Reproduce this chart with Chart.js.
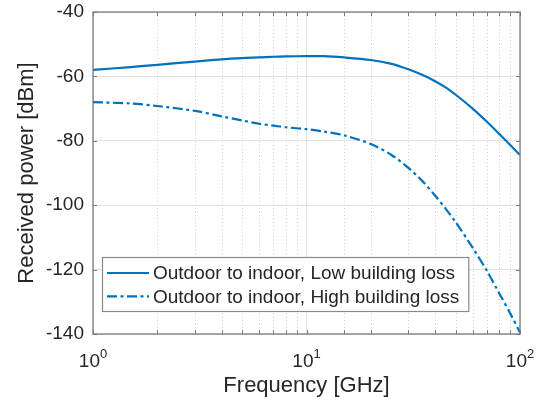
<!DOCTYPE html>
<html>
<head>
<meta charset="utf-8">
<script src="https://cdn.jsdelivr.net/npm/chart.js@4.4.0/dist/chart.umd.min.js"></script>
<style>
  html, body { margin: 0; padding: 0; background: #fff; }
  #wrap { width: 536px; height: 404px; }
</style>
</head>
<body>
<div id="wrap"><canvas id="powerChart" width="536" height="404"></canvas></div>
<script>
// Frequency sweep [GHz] and received power [dBm] for both building-loss cases
const frequencies = [1, 1.5, 2, 3, 4, 5, 6, 7, 8, 10, 12, 15, 20, 25, 30, 35, 40, 45, 50, 60, 70, 80, 90, 100];
const lowLoss = [-58.0, -57.1, -56.4, -55.4, -54.7, -54.3, -54.1, -53.9, -53.8, -53.7, -53.7, -54.1,
                 -54.9, -56.1, -57.8, -59.6, -61.5, -63.5, -65.7, -70.0, -74.1, -77.9, -81.3, -84.4];
const highLoss = [-68.0, -68.4, -69.2, -70.7, -72.4, -73.7, -74.7, -75.3, -75.8, -76.4, -77.1, -78.3,
                  -81.0, -84.4, -88.4, -92.6, -97.0, -101.2, -105.3, -113.2, -120.4, -127.4, -133.6, -139.5];
const seriesLabels = ['Outdoor to indoor, Low building loss', 'Outdoor to indoor, High building loss'];
const decades = [1, 10, 100];
const decadeExponents = ['0', '1', '2'];

const LINE_BLUE = '#0072BD';
const TEXT = '#262626';
const FRAME = '#7a7a7a';
const FONT = '"Liberation Sans", Arial, Helvetica, sans-serif';

const isDecade = v => decades.some(d => Math.abs(d - v) < 1e-9);

const toPoints = ys => frequencies.map((f, i) => ({ x: f, y: ys[i] }));

// grid, inward ticks, box, exponent labels and the boxed legend
const matlabAxes = {
  id: 'matlabAxes',
  beforeDatasetsDraw(chart) {
    const { ctx, chartArea: a, scales: { x } } = chart;
    ctx.save();
    ctx.strokeStyle = '#cfcfcf';
    ctx.lineWidth = 1;
    ctx.setLineDash([1, 2.5]);
    x.ticks.forEach(t => {
      if (isDecade(t.value)) return;
      const px = Math.round(x.getPixelForValue(t.value)) + 0.5;
      ctx.beginPath();
      ctx.moveTo(px, a.top);
      ctx.lineTo(px, a.bottom);
      ctx.stroke();
    });
    ctx.restore();
  },
  afterDraw(chart) {
    const { ctx, chartArea: a, scales: { x, y } } = chart;
    ctx.save();

    // inward ticks on all four sides
    ctx.strokeStyle = FRAME;
    ctx.lineWidth = 1;
    const len = 4;
    x.ticks.forEach(t => {
      const px = Math.round(x.getPixelForValue(t.value)) + 0.5;
      ctx.beginPath();
      ctx.moveTo(px, a.bottom); ctx.lineTo(px, a.bottom - len);
      ctx.moveTo(px, a.top); ctx.lineTo(px, a.top + len);
      ctx.stroke();
    });
    y.ticks.forEach(t => {
      const py = Math.round(y.getPixelForValue(t.value)) + 0.5;
      ctx.beginPath();
      ctx.moveTo(a.left, py); ctx.lineTo(a.left + len, py);
      ctx.moveTo(a.right, py); ctx.lineTo(a.right - len, py);
      ctx.stroke();
    });

    // axes box
    ctx.lineWidth = 1.3;
    ctx.strokeRect(a.left, a.top, a.right - a.left, a.bottom - a.top);

    // 10^n tick labels
    ctx.fillStyle = TEXT;
    ctx.textBaseline = 'alphabetic';
    decades.forEach((d, i) => {
      const px = x.getPixelForValue(d);
      ctx.font = '19px ' + FONT;
      const wBase = ctx.measureText('10').width;
      ctx.font = '13px ' + FONT;
      const wExp = ctx.measureText(decadeExponents[i]).width;
      const left = px - (wBase + wExp) / 2;
      ctx.font = '19px ' + FONT;
      ctx.fillText('10', left, a.bottom + 33);
      ctx.font = '13px ' + FONT;
      ctx.fillText(decadeExponents[i], left + wBase, a.bottom + 24);
    });

    // legend
    ctx.font = '19px ' + FONT;
    const widths = chart.data.datasets.map(ds => ctx.measureText(ds.label).width);
    const bx = a.left + 9, by = a.bottom - 77, bh = 54;
    const sampleX0 = bx + 5, sampleX1 = bx + 47, textX = bx + 51;
    const bw = textX - bx + Math.max(...widths) + 9;
    ctx.fillStyle = '#fff';
    ctx.fillRect(bx, by, bw, bh);
    ctx.strokeStyle = '#8a8a8a';
    ctx.lineWidth = 1.2;
    ctx.strokeRect(bx + 0.5, by + 0.5, bw, bh);
    chart.data.datasets.forEach((ds, i) => {
      const cy = by + 16 + i * 23.4;
      ctx.strokeStyle = ds.borderColor;
      ctx.lineWidth = ds.borderWidth;
      ctx.setLineDash(ds.borderDash || []);
      ctx.beginPath();
      ctx.moveTo(sampleX0, cy);
      ctx.lineTo(sampleX1, cy);
      ctx.stroke();
      ctx.setLineDash([]);
      ctx.fillStyle = TEXT;
      ctx.textBaseline = 'middle';
      ctx.fillText(ds.label, textX, cy + 1);
    });
    ctx.restore();
  }
};

const ctx = document.getElementById('powerChart').getContext('2d');
const chart = new Chart(ctx, {
  type: 'line',
  data: {
    datasets: [
      {
        label: seriesLabels[0],
        data: toPoints(lowLoss),
        borderColor: LINE_BLUE,
        borderWidth: 2.2,
        pointRadius: 0,
        tension: 0.3
      },
      {
        label: seriesLabels[1],
        data: toPoints(highLoss),
        borderColor: LINE_BLUE,
        borderWidth: 2.2,
        borderDash: [10, 3.5, 3, 3.5],
        pointRadius: 0,
        tension: 0.3
      }
    ]
  },
  options: {
    responsive: false,
    devicePixelRatio: 1,
    animation: false,
    layout: { padding: { top: 12, right: 16, left: 0, bottom: 0 } },
    plugins: {
      legend: { display: false },
      tooltip: { enabled: false }
    },
    scales: {
      x: {
        type: 'logarithmic',
        min: 1,
        max: 100,
        border: { display: false },
        grid: {
          drawTicks: false,
          color: c => (c.tick && isDecade(c.tick.value)) ? '#e2e2e2' : 'rgba(0,0,0,0)',
          lineWidth: 1
        },
        ticks: { display: false },
        title: {
          display: true,
          text: 'Frequency [GHz]',
          color: TEXT,
          font: { family: FONT, size: 22 },
          padding: { top: 0, bottom: 5 }
        },
        afterFit: s => { s.height = 70; s.paddingLeft = 0; s.paddingRight = 0; }
      },
      y: {
        min: -140,
        max: -40,
        border: { display: false },
        grid: { drawTicks: false, color: '#e2e2e2', lineWidth: 1 },
        ticks: {
          stepSize: 20,
          padding: 9,
          color: TEXT,
          font: { family: FONT, size: 19 }
        },
        title: {
          display: true,
          text: 'Received power [dBm]',
          color: TEXT,
          font: { family: FONT, size: 22 },
          padding: { top: 14, bottom: 0 }
        },
        afterFit: s => { s.width = 93; s.paddingTop = 0; s.paddingBottom = 0; }
      }
    }
  },
  plugins: [matlabAxes]
});
</script>
</body>
</html>
